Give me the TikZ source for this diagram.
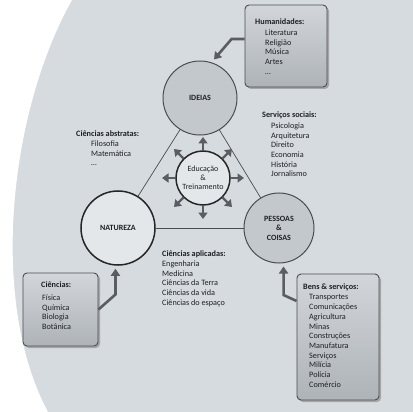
\documentclass[tikz,border=0pt]{standalone}
\usepackage{fontspec}
\setmainfont{Carlito}
\usetikzlibrary{arrows.meta,calc}
\definecolor{pagebg}{HTML}{D6DBE0}
\definecolor{circfill}{HTML}{C3C8CD}
\definecolor{lightfill}{HTML}{E4E7EA}
\definecolor{boxtop}{HTML}{D2D6DA}
\definecolor{boxbot}{HTML}{AEB3B8}
\definecolor{linegray}{HTML}{4A4D50}
\definecolor{arrowgray}{HTML}{5A5E62}
\definecolor{txt}{HTML}{1E2024}
\tikzset{
  bigcirc/.style={circle, draw=linegray, line width=1pt, fill=circfill, minimum size=74pt, inner sep=0pt, align=center, font=\fontsize{8}{9.5}\selectfont\bfseries, text=txt},
  darkcirc/.style={circle, draw=black!85, line width=1.5pt, fill=lightfill, minimum size=74pt, inner sep=0pt, align=center, font=\fontsize{8}{9.5}\selectfont\bfseries, text=txt},
  educirc/.style={circle, draw=black!85, line width=1.5pt, fill=lightfill, minimum size=54pt, inner sep=0pt, align=center, font=\fontsize{8}{9}\selectfont, text=txt},
  infobox/.style={rectangle, rounded corners=4pt, draw=linegray, line width=0.9pt, top color=boxtop, bottom color=boxbot, inner sep=0pt},
  boxshadow/.style={fill=black!35, rounded corners=4pt},
  ttl/.style={anchor=west, inner sep=0pt, font=\fontsize{8.2}{9.7}\selectfont\bfseries, text=txt},
  lst/.style={anchor=north west, inner sep=0pt, align=left, font=\fontsize{8.2}{9.7}\selectfont, text=txt},
  triline/.style={draw=linegray, line width=0.7pt},
  bigarrow/.style={draw=arrowgray, line width=2.6pt, -{Triangle[length=7pt,width=9pt]}},
  smallarrow/.style={draw=arrowgray, line width=2.4pt, -{Triangle[length=6.5pt,width=9pt]}}
}
\begin{document}
\begin{tikzpicture}[x=1pt,y=-1pt]
\useasboundingbox (0,0) rectangle (413,412);
\fill[pagebg] (0,0) rectangle (413,412);
\fill[white] (0,0) -- (72,0) .. controls (10,110) and (-12,300) .. (48,412) -- (0,412) -- cycle;

% circles
\node[bigcirc] (ideias) at (200,98) {IDEIAS};
\node[darkcirc] (natureza) at (118,228) {NATUREZA};
\node[bigcirc, minimum size=70pt] (pessoas) at (279,228) {PESSOAS\\\&\\COISAS};
\node[educirc] (edu) at (203,178) {Educação\\\&\\Treinamento};

% triangle
\draw[triline] (ideias) -- (natureza);
\draw[triline] (ideias) -- (pessoas);
\draw[triline] (natureza) -- (pessoas);

% education arrows
\foreach \a in {0,45,...,315}
  \draw[smallarrow] (edu.\a) -- ($(edu.center)+(\a:41pt)$);

% box shadows
\fill[boxshadow] (247,7) rectangle (329,89);
\fill[boxshadow] (25,275) rectangle (100,348);
\fill[boxshadow] (299,276) rectangle (381,402);

% boxes
\node[infobox, minimum width=82pt, minimum height=82pt] (hum) at (286,46) {};
\node[infobox, minimum width=75pt, minimum height=73pt] (cien) at (60.5,309.5) {};
\node[infobox, minimum width=82pt, minimum height=126pt] (bens) at (338,337) {};

% box arrows
\draw[bigarrow] ([yshift=7pt]hum.west) -- ++(-13,0) coordinate (h1) -- ($(ideias.center)+(70:41pt)$);
\draw[bigarrow] (cien.east) -- ++(17,-15) coordinate (c1) -- ($(c1 |- natureza.south)+(0,3)$);
\draw[bigarrow] ([yshift=36pt]bens.west) -- ++(-13,-6) coordinate (b1) -- ($(b1 |- pessoas.south)+(0,3)$);

% texts: Humanidades
\node[ttl] (humt) at (255,22) {Humanidades:};
\node[lst] (huml) at (265,29.5) {Literatura\\Religião\\Música\\Artes\\\dots};

% Ciências abstratas
\node[ttl] (abst) at (76,134) {Ciências abstratas:};
\node[lst] (absl) at (91,140.5) {Filosofia\\Matemática\\\dots};

% Serviços sociais
\node[ttl] (sert) at (262,115) {Serviços sociais:};
\node[lst] (serl) at (271,122.5) {Psicologia\\Arquitetura\\Direito\\Economia\\História\\Jornalismo};

% Ciências aplicadas
\node[ttl] (aplt) at (162,254) {Ciências aplicadas:};
\node[lst] (apll) at (162,260.5) {Engenharia\\Medicina\\Ciências da Terra\\Ciências da vida\\Ciências do espaço};

% Ciências
\node[ttl] (cient) at (41,285) {Ciências:};
\node[lst] (cienl) at (42,294.5) {Física\\Química\\Biologia\\Botânica};

% Bens & serviços
\node[ttl] (benst) at (303,287) {Bens \& serviços:};
\node[lst] (bensl) at (309,294.5) {Transportes\\Comunicações\\Agricultura\\Minas\\Construções\\Manufatura\\Serviços\\Milícia\\Polícia\\Comércio};
\end{tikzpicture}
\end{document}
